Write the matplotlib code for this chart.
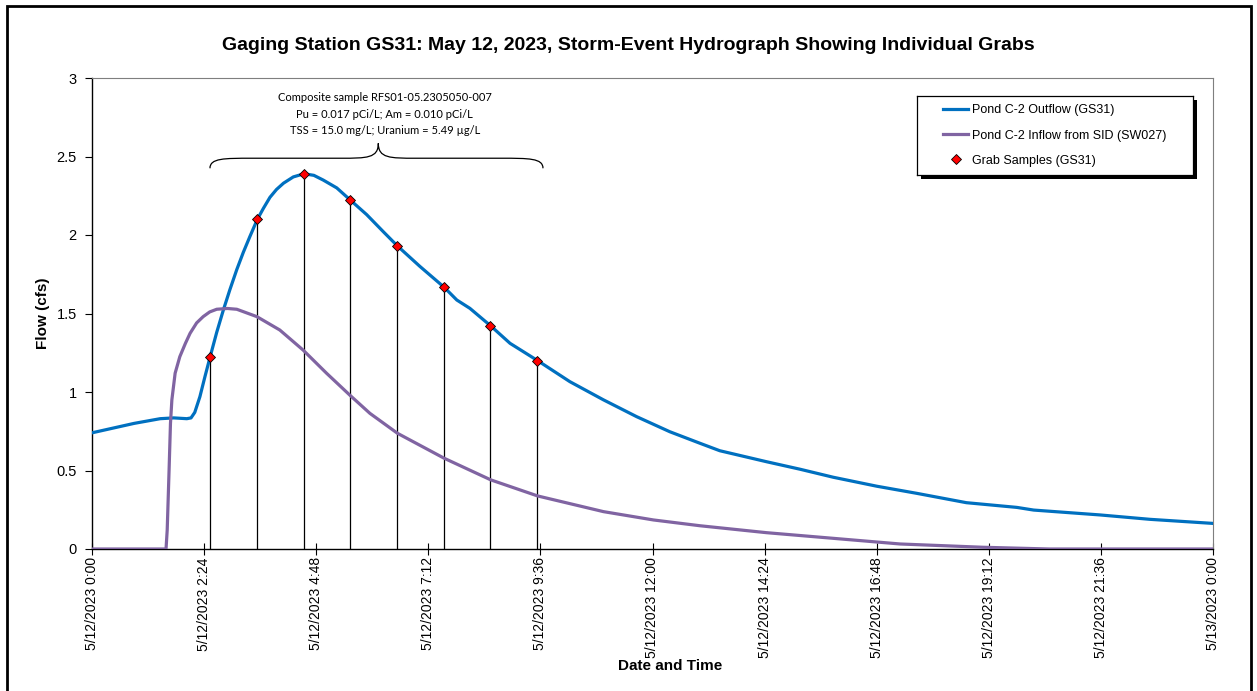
import matplotlib
matplotlib.use('Agg')
import matplotlib.pyplot as plt
from matplotlib.patches import Rectangle, PathPatch
from matplotlib.path import Path

plt.rcParams['font.family'] = 'Liberation Sans'

# hours after 5/12/2023 0:00
outflow_t = [0.0, 0.3, 0.6, 0.9, 1.18, 1.46, 1.75, 2.03, 2.12, 2.2, 2.31, 2.42,
             2.53, 2.67, 2.81, 2.95, 3.1, 3.24, 3.38, 3.54, 3.67, 3.81, 3.95, 4.1,
             4.31, 4.54, 4.75, 4.95, 5.24, 5.54, 5.88, 6.24, 6.54, 7.02, 7.54, 7.81,
             8.09, 8.54, 8.95, 9.54, 10.23, 10.95, 11.66, 12.37, 13.02, 13.44, 14.44,
             15.16, 15.87, 16.8, 17.65, 18.72, 19.8, 20.16, 21.58, 22.65, 24.0]
outflow_q = [0.74, 0.76, 0.78, 0.80, 0.815, 0.83, 0.835, 0.83, 0.835, 0.87, 0.97, 1.10,
             1.225, 1.38, 1.52, 1.65, 1.78, 1.89, 1.99, 2.10, 2.17, 2.24, 2.29, 2.33,
             2.37, 2.39, 2.38, 2.35, 2.30, 2.22, 2.13, 2.02, 1.93, 1.80, 1.667, 1.586,
             1.533, 1.42, 1.31, 1.20, 1.066, 0.95, 0.843, 0.747, 0.673, 0.626, 0.556,
             0.508, 0.457, 0.40, 0.355, 0.295, 0.265, 0.248, 0.217, 0.189, 0.163]

inflow_t = [0.0, 1.585, 1.61, 1.65, 1.68, 1.71, 1.78, 1.88, 2.0, 2.1, 2.24, 2.38, 2.52,
            2.67, 2.9, 3.1, 3.53, 4.02, 4.52, 5.02, 5.52, 5.95, 6.54, 7.54, 8.54, 9.54,
            10.95, 12.02, 13.02, 14.44, 15.87, 17.3, 19.08, 20.5, 24.0]
inflow_q = [0.0, 0.0, 0.12, 0.50, 0.80, 0.95, 1.12, 1.225, 1.31, 1.374, 1.44, 1.48, 1.51,
            1.527, 1.532, 1.527, 1.48, 1.395, 1.267, 1.12, 0.98, 0.864, 0.737, 0.578, 0.44,
            0.338, 0.238, 0.185, 0.148, 0.104, 0.068, 0.032, 0.011, 0.0, 0.0]

grab_t = [2.53, 3.53, 4.53, 5.53, 6.53, 7.53, 8.53, 9.53]
grab_q = [1.225, 2.10, 2.39, 2.22, 1.93, 1.667, 1.42, 1.20]

tick_hours = [0, 2.4, 4.8, 7.2, 9.6, 12.0, 14.4, 16.8, 19.2, 21.6, 24.0]
tick_labels = ['5/12/2023 0:00', '5/12/2023 2:24', '5/12/2023 4:48', '5/12/2023 7:12',
               '5/12/2023 9:36', '5/12/2023 12:00', '5/12/2023 14:24', '5/12/2023 16:48',
               '5/12/2023 19:12', '5/12/2023 21:36', '5/13/2023 0:00']
y_ticks = [0, 0.5, 1, 1.5, 2, 2.5, 3]
y_labels = ['0', '0.5', '1', '1.5', '2', '2.5', '3']

note = ('Composite sample RFS01-05.2305050-007\n'
        'Pu = 0.017 pCi/L; Am = 0.010 pCi/L\n'
        'TSS = 15.0 mg/L; Uranium = 5.49 \u00b5g/L')

W, H = 1257, 691
fig = plt.figure(figsize=(W / 100, H / 100), dpi=100)
ax = fig.add_axes([92 / W, 1 - 549 / H, (1213 - 92) / W, (549 - 78) / H])

ax.vlines(grab_t, 0, grab_q, color='black', lw=0.9, zorder=2)
ax.plot(outflow_t, outflow_q, color='#0070C0', lw=2.3, label='Pond C-2 Outflow (GS31)', zorder=3)
ax.plot(inflow_t, inflow_q, color='#8064A2', lw=2.3, label='Pond C-2 Inflow from SID (SW027)', zorder=3)
ax.plot(grab_t, grab_q, 'D', color='#FF0000', mec='black', mew=0.6, ms=5,
        label='Grab Samples (GS31)', zorder=4)

ax.set_xlim(0, 24)
ax.set_ylim(0, 3)
ax.set_xticks(tick_hours)
ax.set_xticklabels(tick_labels, rotation=90, fontsize=10)
ax.set_yticks(y_ticks)
ax.set_yticklabels(y_labels, fontsize=10.5)
ax.tick_params(axis='x', direction='inout', length=8, width=0.8, pad=2)
ax.tick_params(axis='y', direction='out', length=5, width=0.8, pad=6)
for s in ['left', 'bottom']:
    ax.spines[s].set_color('black')
    ax.spines[s].set_linewidth(1.0)
for s in ['top', 'right']:
    ax.spines[s].set_color('#7f7f7f')
    ax.spines[s].set_linewidth(0.8)

fig.text(43 / W, 1 - 313 / H, 'Flow (cfs)', fontsize=11, fontweight='bold',
         rotation=90, ha='center', va='center')
fig.text(670 / W, 1 - 666 / H, 'Date and Time', fontsize=11, fontweight='bold',
         ha='center', va='center')
fig.text(0.5, 1 - 45 / H,
         'Gaging Station GS31: May 12, 2023, Storm-Event Hydrograph Showing Individual Grabs',
         fontsize=14, fontweight='bold', ha='center', va='center')

# curly brace over the composite grabs
x0, x1, xm = 2.526, 9.655, 6.13
y0, yf, yt = 2.425, 2.489, 2.584
verts = [(x0, y0), (x0, yf), (x0 + 0.3, yf), (x0 + 0.9, yf),
         (xm - 0.8, yf),
         (xm - 0.25, yf), (xm, yf), (xm, yt),
         (xm, yf), (xm + 0.25, yf), (xm + 0.8, yf),
         (x1 - 0.9, yf),
         (x1 - 0.3, yf), (x1, yf), (x1, y0)]
codes = [Path.MOVETO, Path.CURVE4, Path.CURVE4, Path.CURVE4,
         Path.LINETO,
         Path.CURVE4, Path.CURVE4, Path.CURVE4,
         Path.CURVE4, Path.CURVE4, Path.CURVE4,
         Path.LINETO,
         Path.CURVE4, Path.CURVE4, Path.CURVE4]
ax.add_patch(PathPatch(Path(verts, codes), fc='none', ec='black', lw=0.9))
ax.text(6.27, 2.628, note, family='Lato', fontsize=8, ha='center', va='bottom',
        linespacing=1.64)

# legend in its own framed box with a hard shadow
lx0, ly0, lx1, ly1 = 917, 96, 1193, 175
fig.patches.append(Rectangle(((lx0 + 4) / W, 1 - (ly1 + 4) / H), (lx1 - lx0) / W,
                             (ly1 - ly0) / H, transform=fig.transFigure,
                             fc='black', ec='none', zorder=5))
lax = fig.add_axes([lx0 / W, 1 - ly1 / H, (lx1 - lx0) / W, (ly1 - ly0) / H], zorder=6)
lax.set_xticks([])
lax.set_yticks([])
for s in lax.spines.values():
    s.set_linewidth(0.9)
    s.set_color('black')
h, l = ax.get_legend_handles_labels()
lax.legend(h, l, loc='center left', bbox_to_anchor=(0.095, 0.5), frameon=False,
           fontsize=9, handlelength=2.0, handletextpad=0.3, labelspacing=1.05,
           borderpad=0, borderaxespad=0)

fig.patches.append(Rectangle((7 / W, -0.01), (1251 - 7) / W, 1.01 - 6 / H,
                             transform=fig.transFigure, fc='none', ec='black', lw=2))

fig.savefig('out.png', dpi=100)
